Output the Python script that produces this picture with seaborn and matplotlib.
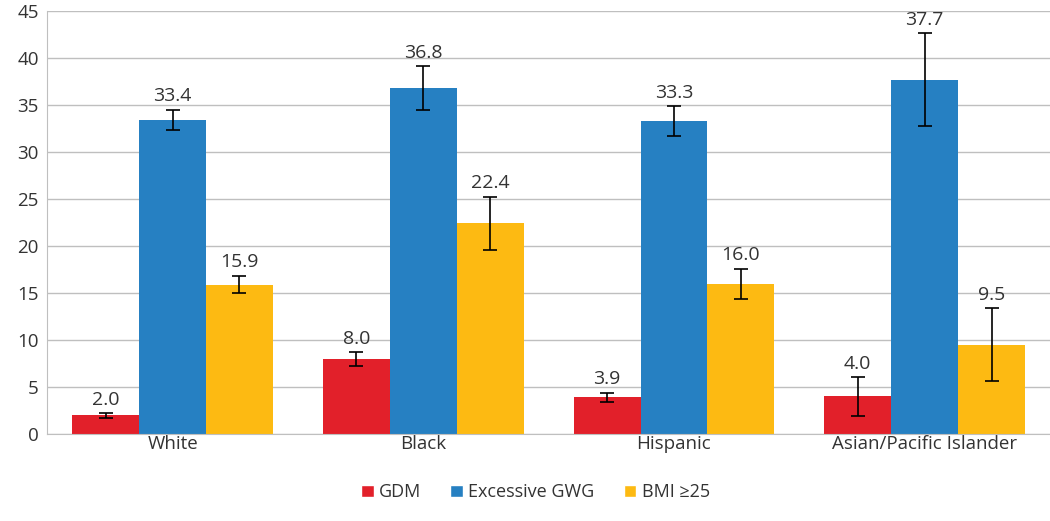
import matplotlib.pyplot as plt
import seaborn as sns
import pandas as pd
import numpy as np
from matplotlib.patches import Patch

# data
groups = ['White', 'Black', 'Hispanic', 'Asian/Pacific Islander']
measures = ['GDM', 'Excessive GWG', 'BMI ≥25']
gdm = [2.0, 8.0, 3.9, 4.0]
gwg = [33.4, 36.8, 33.3, 37.7]
bmi = [15.9, 22.4, 16.0, 9.5]
gdm_err = [0.25, 0.75, 0.5, 2.05]
gwg_err = [1.1, 2.3, 1.6, 4.95]
bmi_err = [0.95, 2.85, 1.6, 3.85]

colors = ['#E2202A', '#2680C2', '#FDBA12']

rows = []
for vals, errs, m in [(gdm, gdm_err, measures[0]), (gwg, gwg_err, measures[1]), (bmi, bmi_err, measures[2])]:
    for g, v, e in zip(groups, vals, errs):
        rows.append({'Group': g, 'Measure': m, 'Value': v, 'Err': e})
df = pd.DataFrame(rows)

sns.set_style('white')
plt.rcParams['font.family'] = ['Open Sans', 'DejaVu Sans']

fig = plt.figure(figsize=(10.5, 5.21), dpi=100)
ax = fig.add_axes([0.045, 0.167, 0.955, 0.812])

sns.barplot(data=df, x='Group', y='Value', hue='Measure', order=groups,
            hue_order=measures, palette=colors, errorbar=None, width=0.8,
            saturation=1, linewidth=0, ax=ax, zorder=2, legend=False)

for cont, m in zip(ax.containers, measures):
    sub = df[df['Measure'] == m].set_index('Group').loc[groups]
    xs = [p.get_x() + p.get_width() / 2 for p in cont]
    ax.errorbar(xs, sub['Value'], yerr=sub['Err'], fmt='none', ecolor='black',
                elinewidth=1.2, capsize=5, capthick=1.2, zorder=3)
    for x, v, e in zip(xs, sub['Value'], sub['Err']):
        ax.annotate(f'{v:.1f}', (x, v + e), xytext=(0, 3), textcoords='offset points',
                    ha='center', va='bottom', fontsize=14, color='#333333')

ax.set_ylim(0, 45)
ax.set_yticks(range(0, 46, 5))
ax.set_xlim(-0.5, 3.5)
ax.yaxis.grid(True, color='#BFBFBF', linewidth=1)
ax.set_axisbelow(True)
for s in ['top', 'right']:
    ax.spines[s].set_visible(False)
ax.spines['left'].set_color('#BFBFBF')
ax.spines['bottom'].set_color('#BFBFBF')
ax.set_xlabel('')
ax.set_ylabel('')
ax.tick_params(axis='both', length=0, labelsize=13.5, colors='#333333')
ax.tick_params(axis='x', pad=1)
ax.tick_params(axis='y', pad=6)

handles = [Patch(facecolor=c, label=m) for c, m in zip(colors, measures)]
fig.legend(handles=handles, loc='center', bbox_to_anchor=(0.51, 0.055), ncol=3,
           frameon=False, fontsize=13, handlelength=0.7, handleheight=0.7,
           handletextpad=0.3, columnspacing=1.6, labelcolor='#333333')

fig.savefig('out.png', dpi=100)
